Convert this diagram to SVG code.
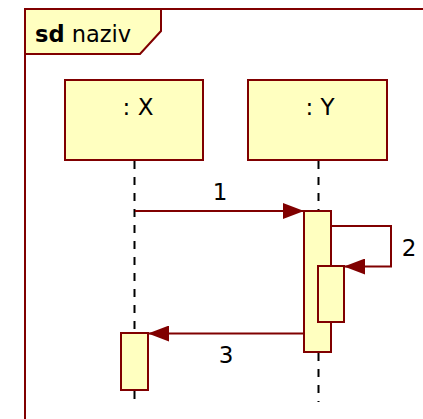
<svg xmlns="http://www.w3.org/2000/svg" width="423" height="419" viewBox="0 0 423 419">
<defs>
<style>
.box{fill:#FFFFC0;stroke:#800000;stroke-width:2}
.ln{fill:none;stroke:#800000;stroke-width:2}
.life{stroke:#000;stroke-width:2;stroke-dasharray:8,8;fill:none}
.t{font-family:"DejaVu Sans","Liberation Sans",sans-serif;fill:#000}
</style>
<marker id="ah" markerWidth="22" markerHeight="16" refX="21" refY="8" orient="auto" markerUnits="userSpaceOnUse">
<path d="M0,0 L21,8 L0,16 Z" fill="#800000"/>
</marker>
</defs>
<rect width="423" height="419" fill="#fff"/>
<g id="frame">
<path class="ln" d="M25,430 L25,9 L430,9"/>
<path class="box" d="M25,9 L161,9 L161,31 L140,54 L25,54 Z"/>
<text class="t" x="35" y="42" font-size="22.5"><tspan font-weight="bold">sd</tspan> naziv</text>
</g>
<g id="lifelines">
<line class="life" x1="134.5" y1="161" x2="134.5" y2="333"/>
<line class="life" x1="134.5" y1="391" x2="134.5" y2="402"/>
<line class="life" x1="318.5" y1="161" x2="318.5" y2="210"/>
<line class="life" x1="318.5" y1="353" x2="318.5" y2="402"/>
</g>
<g id="X">
<rect class="box" x="65" y="80" width="138" height="80"/>
<text class="t" x="138" y="115" font-size="23" text-anchor="middle">: X</text>
</g>
<g id="Y">
<rect class="box" x="248" y="80" width="139" height="80"/>
<text class="t" x="320" y="115" font-size="23" text-anchor="middle">: Y</text>
</g>
<g id="actX">
<rect class="box" x="121" y="333" width="27" height="57"/>
</g>
<g id="actY">
<rect class="box" x="304" y="211" width="27" height="141"/>
</g>
<g id="actY2">
<rect class="box" x="318" y="266" width="26" height="56"/>
</g>
<g id="connectors">
<line class="ln" x1="135" y1="211" x2="304" y2="211" marker-end="url(#ah)"/>
<polyline class="ln" points="331,226 391,226 391,266.5 344,266.5" marker-end="url(#ah)"/>
<line class="ln" x1="304" y1="333.5" x2="148" y2="333.5" marker-end="url(#ah)"/>
<text class="t" x="220" y="200" font-size="23" text-anchor="middle">1</text>
<text class="t" x="409" y="256" font-size="23" text-anchor="middle">2</text>
<text class="t" x="226" y="363" font-size="23" text-anchor="middle">3</text>
</g>
</svg>
